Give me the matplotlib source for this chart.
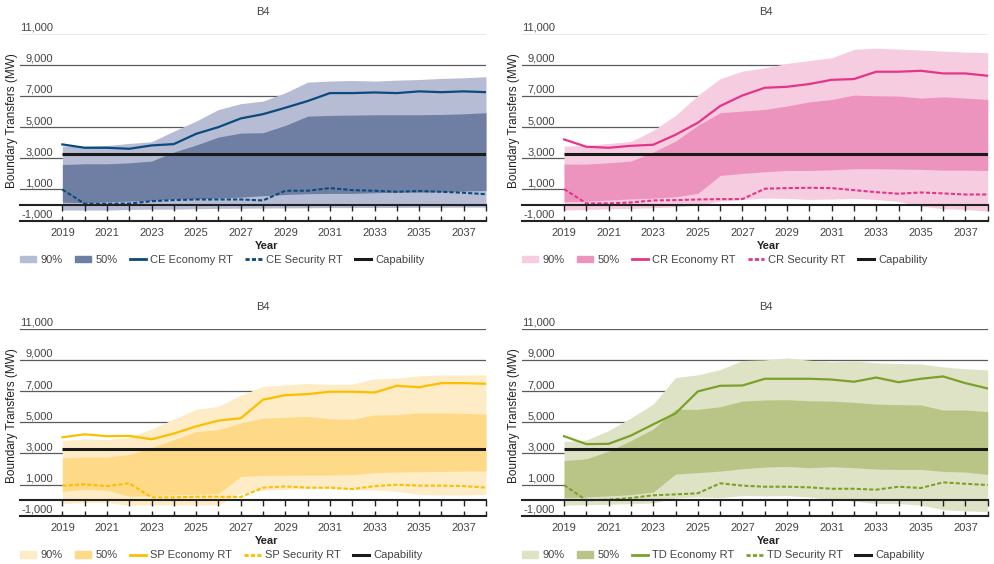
import matplotlib
matplotlib.use('Agg')
import matplotlib.pyplot as plt
from matplotlib.patches import Patch
from matplotlib.lines import Line2D
import matplotlib.transforms as mtransforms

plt.rcParams['font.family'] = ['Liberation Sans', 'DejaVu Sans']

years = [2019, 2020, 2021, 2022, 2023, 2024, 2025, 2026, 2027, 2028,
         2029, 2030, 2031, 2032, 2033, 2034, 2035, 2036, 2037, 2038]
year_labels = ['2019', '', '2021', '', '2023', '', '2025', '', '2027', '',
               '2029', '', '2031', '', '2033', '', '2035', '', '2037', '']
y_ticks = [-1000, 1000, 3000, 5000, 7000, 9000, 11000]
y_tick_labels = ['-1,000', '1,000', '3,000', '5,000', '7,000', '9,000', '11,000']
capability = 3300

# Consumer Evolution
ce_hi90 = [3780, 3780, 3825, 3950, 4060, 4740, 5385, 6130, 6500, 6670,
           7200, 7885, 7950, 7990, 7950, 8010, 8050, 8120, 8160, 8230]
ce_hi50 = [2600, 2650, 2650, 2710, 2820, 3400, 3850, 4360, 4615, 4640,
           5110, 5700, 5750, 5770, 5790, 5790, 5790, 5810, 5850, 5920]
ce_lo50 = [190, 150, 210, 260, 300, 400, 400, 450, 510, 600,
           680, 730, 750, 750, 790, 830, 830, 850, 900, 940]
ce_lo90 = [-320, -320, -320, -280, -260, -260, -235, -210, -200, -190,
           -180, -170, -160, -160, -150, -150, -140, -140, -130, -130]
ce_econ = [3890, 3675, 3675, 3610, 3825, 3910, 4570, 5000, 5555, 5830,
           6240, 6670, 7180, 7180, 7220, 7180, 7290, 7240, 7290, 7240]
ce_sec = [1000, 85, 85, 100, 250, 320, 360, 360, 360, 300,
          920, 920, 1090, 960, 920, 855, 900, 855, 790, 700]

# Community Renewables
cr_hi90 = [3780, 3825, 3950, 4080, 4790, 5750, 7030, 8100, 8590, 8800,
           9080, 9270, 9440, 9980, 10060, 10000, 9940, 9870, 9810, 9770]
cr_hi50 = [2630, 2630, 2710, 2820, 3400, 4100, 5110, 5920, 6030, 6130,
           6350, 6620, 6770, 7050, 7010, 6990, 6860, 6940, 6860, 6770]
cr_lo50 = [210, 260, 320, 400, 450, 530, 750, 1900, 2030, 2140,
           2220, 2220, 2260, 2330, 2330, 2310, 2290, 2240, 2240, 2220]
cr_lo90 = [-320, -280, -235, -210, -170, -110, 0, 260, 360, 450,
           430, 360, 385, 430, 360, 235, -65, -235, -280, -385]
cr_econ = [4210, 3740, 3675, 3800, 3870, 4510, 5280, 6350, 7030, 7520,
           7585, 7760, 8030, 8080, 8550, 8550, 8610, 8440, 8440, 8290]
cr_sec = [1030, 110, 110, 170, 300, 320, 360, 385, 385, 1050,
          1090, 1110, 1090, 960, 830, 730, 810, 750, 680, 680]

# Steady Progression
sp_hi90 = [3830, 3940, 3890, 4040, 4570, 5210, 5830, 6020, 6740, 7300,
           7400, 7490, 7430, 7450, 7790, 7830, 7980, 8040, 8040, 8040]
sp_hi50 = [2720, 2770, 2770, 2940, 3380, 3890, 4400, 4530, 4960, 5260,
           5320, 5380, 5230, 5190, 5470, 5490, 5600, 5600, 5570, 5530]
sp_lo50 = [570, 700, 640, 260, 300, 360, 380, 430, 1530, 1600,
           1600, 1620, 1620, 1640, 1770, 1810, 1830, 1850, 1870, 1890]
sp_lo90 = [-210, -150, -150, -320, -300, -300, -300, -300, 470, 640,
           700, 740, 740, 680, 660, 570, 380, 340, 340, 380]
sp_econ = [4040, 4230, 4110, 4130, 3910, 4280, 4740, 5110, 5260, 6450,
           6740, 6810, 6960, 6960, 6910, 7340, 7250, 7510, 7510, 7470]
sp_sec = [940, 1020, 910, 1090, 190, 190, 230, 230, 210, 810,
          890, 810, 810, 720, 910, 1000, 940, 940, 910, 810]

# Two Degrees
td_hi90 = [3770, 3870, 4470, 5280, 6170, 7870, 8040, 8380, 8960, 9000,
           9130, 8980, 8870, 8940, 8810, 8770, 8740, 8550, 8430, 8360]
td_hi50 = [2550, 2660, 3150, 3830, 4570, 5830, 5830, 6000, 6360, 6430,
           6450, 6380, 6360, 6280, 6170, 6130, 6110, 5790, 5790, 5680]
td_lo50 = [170, 210, 280, 360, 530, 1680, 1770, 1870, 2020, 2130,
           2170, 2090, 2150, 2090, 2000, 1980, 1980, 1850, 1810, 1660]
td_lo90 = [-320, -280, -260, -210, -170, 150, 210, 170, 300, 280,
           300, 210, 60, -40, -210, -210, -300, -600, -680, -720]
td_econ = [4110, 3600, 3620, 4150, 4870, 5570, 6980, 7340, 7360, 7790,
           7790, 7790, 7740, 7600, 7870, 7570, 7790, 7940, 7510, 7170]
td_sec = [980, 0, 40, 150, 320, 380, 450, 1090, 940, 870,
          870, 830, 740, 740, 680, 870, 790, 1150, 1060, 980]

panels = [
    ('CE', ce_hi90, ce_lo90, ce_hi50, ce_lo50, ce_econ, ce_sec,
     '#b6bcd4', '#6f7fa3', '#0b4a7c'),
    ('CR', cr_hi90, cr_lo90, cr_hi50, cr_lo50, cr_econ, cr_sec,
     '#f6cde0', '#ec94be', '#e5358a'),
    ('SP', sp_hi90, sp_lo90, sp_hi50, sp_lo50, sp_econ, sp_sec,
     '#feecc6', '#fed987', '#fbbf00'),
    ('TD', td_hi90, td_lo90, td_hi50, td_lo50, td_econ, td_sec,
     '#dee3c6', '#b9c587', '#7aa22b'),
]

W, H = 995, 564
fig = plt.figure(figsize=(W / 100, H / 100), dpi=100)

# axes boxes in pixels: left, top (11,000 line), right, bottom (-1,000 line)
boxes = [(20, 33.5, 486, 220.7), (521.7, 33.5, 987.7, 220.7),
         (20, 328.7, 486, 515.9), (521.7, 328.7, 987.7, 515.9)]
title_pos = [(263, 12), (766, 12), (263, 307), (766, 307)]

txt_col = '#444444'

for (name, hi90, lo90, hi50, lo50, econ, sec, c90, c50, cl), box, tp in zip(panels, boxes, title_pos):
    l, t, r, b = box
    ax = fig.add_axes([l / W, 1 - b / H, (r - l) / W, (b - t) / H])
    ax.set_xlim(2017.1, 2038)
    ax.set_ylim(-1000, 11000)
    ax.set_axisbelow(True)

    ax.fill_between(years, lo90, hi90, color=c90, lw=0, zorder=1)
    ax.fill_between(years, lo50, hi50, color=c50, lw=0, zorder=2)
    ax.hlines(capability, years[0], years[-1], color='#1a1a1a', lw=2.2, zorder=3)
    ax.plot(years, econ, color=cl, lw=1.6, zorder=4, solid_joinstyle='round')
    ax.plot(years, sec, color=cl, lw=1.5, ls=(0, (2, 1)), zorder=4)

    # horizontal gridlines
    ax.set_yticks(y_ticks)
    ax.yaxis.grid(True, color='#5a5a5a', lw=0.9)
    ax.tick_params(axis='y', length=0, labelleft=False)
    trans = mtransforms.blended_transform_factory(ax.transAxes, ax.transData)
    for v, lab in zip(y_ticks, y_tick_labels):
        ax.text(33 / (r - l), v + 60, lab, transform=trans, ha='right', va='bottom',
                fontsize=8, color=txt_col)

    for s in ['top', 'left', 'right']:
        ax.spines[s].set_visible(False)
    ax.spines['bottom'].set_color('#222222')
    ax.spines['bottom'].set_linewidth(1.5)
    ax.set_xticks(years)
    ax.set_xticklabels(year_labels, fontsize=8, color=txt_col)
    ax.tick_params(axis='x', direction='in', length=3.5, width=1, color='#222222', pad=5)

    # zero line with year ticks
    sec_ax = ax.secondary_xaxis(1000 / 12000)
    sec_ax.set_zorder(5)
    sec_ax.set_xticks(years)
    sec_ax.tick_params(direction='out', length=4, width=1, color='#222222',
                       labelbottom=False)
    sec_ax.spines['bottom'].set_color('#222222')
    sec_ax.spines['bottom'].set_linewidth(1.5)

    ax.text(0.529, -0.108, 'Year', transform=ax.transAxes, ha='center', va='top',
            fontsize=8, fontweight='bold', color='#222222')
    ax.text(-0.017, 0.535, 'Boundary Transfers (MW)', transform=ax.transAxes,
            rotation=90, ha='center', va='center', fontsize=8.5, color='#222222')
    fig.text(tp[0] / W, 1 - tp[1] / H, 'B4', ha='center', va='center',
             fontsize=8, color=txt_col)

    handles = [Patch(color=c90), Patch(color=c50),
               Line2D([], [], color=cl, lw=2),
               Line2D([], [], color=cl, lw=2, ls=(0, (1.5, 0.8))),
               Line2D([], [], color='#1a1a1a', lw=2.2)]
    labels = ['90%', '50%', name + ' Economy RT', name + ' Security RT', 'Capability']
    leg = ax.legend(handles, labels, loc='center left', bbox_to_anchor=(0, -0.21),
                    ncol=5, frameon=False, fontsize=8, handlelength=1.45,
                    handleheight=0.55, handletextpad=0.4, columnspacing=1.1,
                    borderpad=0, borderaxespad=0)
    for tx in leg.get_texts():
        tx.set_color(txt_col)

fig.savefig('out.png', dpi=100)
